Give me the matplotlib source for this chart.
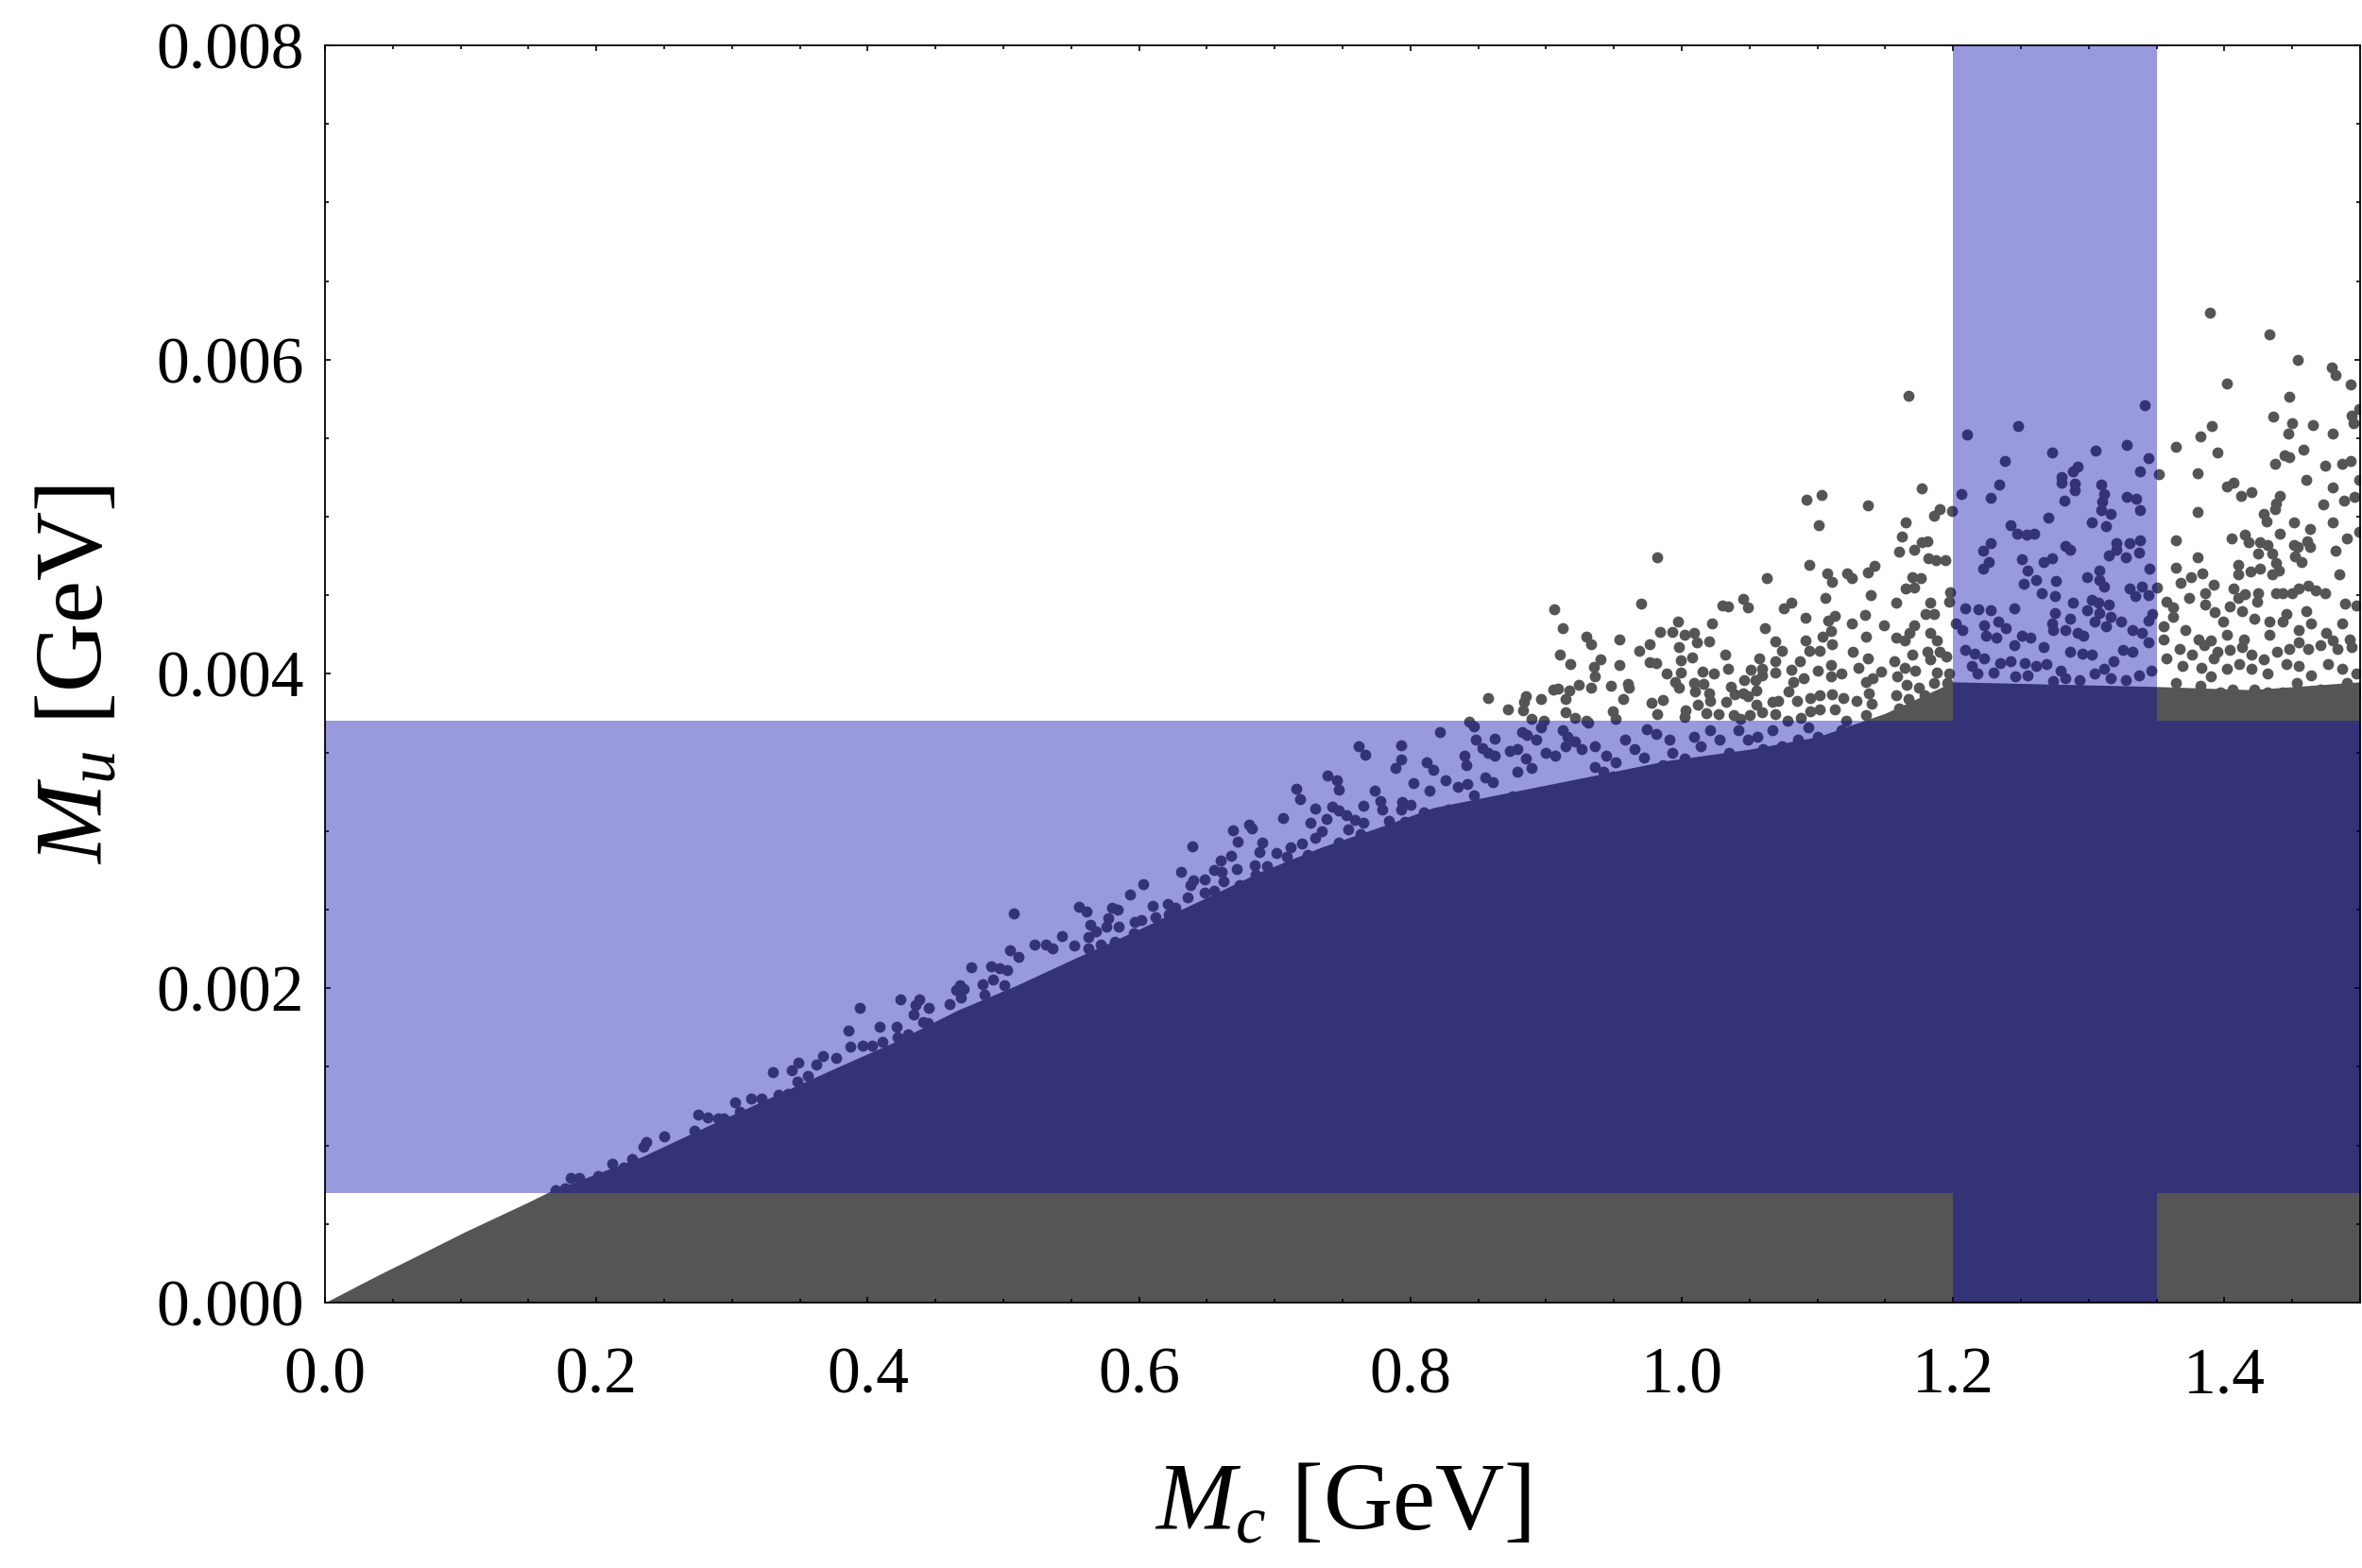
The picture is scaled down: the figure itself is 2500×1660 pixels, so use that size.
import matplotlib
matplotlib.use("Agg")
import matplotlib.pyplot as plt
from matplotlib.ticker import MultipleLocator, FormatStrFormatter

plt.rcParams['font.family'] = 'serif'
plt.rcParams['font.serif'] = ['Liberation Serif', 'DejaVu Serif']
plt.rcParams['mathtext.fontset'] = 'custom'
plt.rcParams['mathtext.rm'] = 'Liberation Serif'
plt.rcParams['mathtext.it'] = 'Liberation Serif:italic'

# allowed ranges (GeV)
mc_band = (1.2, 1.35)
mu_band = (0.0007, 0.0037)

# upper edge of the densely filled part of the scan (Mc in GeV, Mu in MeV)
env_mc = [0.0, 0.038, 0.073, 0.103, 0.15, 0.164, 0.20, 0.234, 0.281, 0.327, 0.373, 0.42,
          0.466, 0.51, 0.55, 0.596, 0.643, 0.689, 0.735, 0.782, 0.817, 0.875, 0.933, 0.99,
          1.049, 1.1, 1.15, 1.2, 1.35, 1.42, 1.5]
env_mu = [0.0, 0.17, 0.32, 0.45, 0.64, 0.70, 0.82, 0.93, 1.12, 1.30, 1.48, 1.66,
          1.86, 2.02, 2.18, 2.36, 2.55, 2.74, 2.90, 3.04, 3.15, 3.25, 3.35, 3.45,
          3.52, 3.60, 3.75, 3.95, 3.92, 3.90, 3.95]

# scattered points along the edge, Mc < 0.52
edge_mc = [0.508, 0.505, 0.511, 0.476, 0.491, 0.497, 0.503, 0.492, 0.485, 0.501, 0.465, 0.468,
           0.471, 0.486, 0.501, 0.469, 0.424, 0.438, 0.435, 0.445, 0.460, 0.481, 0.394, 0.434,
           0.441, 0.444, 0.461, 0.409, 0.421, 0.386, 0.430, 0.454, 0.411, 0.422, 0.387, 0.396,
           0.403, 0.367, 0.377, 0.362, 0.349, 0.344, 0.330, 0.356, 0.348, 0.302, 0.314, 0.322,
           0.334, 0.341, 0.331, 0.340, 0.306, 0.275, 0.282, 0.290, 0.294, 0.316, 0.250, 0.237,
           0.235, 0.212, 0.220, 0.226, 0.181, 0.187, 0.170, 0.177, 0.201, 0.246, 0.255, 0.262,
           0.272]
edge_mu = [2.478, 2.244, 2.198, 2.132, 2.138, 2.128, 2.114, 2.058, 2.028, 2.022, 1.987, 2.018,
           1.998, 1.957, 1.947, 1.943, 1.931, 1.927, 1.893, 1.877, 1.897, 1.877, 1.877, 1.833,
           1.787, 1.777, 1.785, 1.757, 1.753, 1.729, 1.707, 1.725, 1.661, 1.687, 1.627, 1.637,
           1.637, 1.567, 1.557, 1.517, 1.525, 1.477, 1.465, 1.445, 1.407, 1.272, 1.296, 1.300,
           1.322, 1.326, 1.276, 1.230, 1.216, 1.196, 1.176, 1.170, 1.170, 1.184, 1.056, 1.020,
           0.990, 0.886, 0.862, 0.916, 0.792, 0.792, 0.716, 0.726, 0.806, 0.926, 0.966, 0.996,
           1.096]

# scattered points, 0.5 < Mc < 0.8
mid_mc = [0.762, 0.767, 0.793, 0.793, 0.789, 0.802, 0.739, 0.746, 0.747, 0.716, 0.719, 0.774,
          0.778, 0.779, 0.765, 0.742, 0.747, 0.730, 0.706, 0.726, 0.738, 0.753, 0.759, 0.765,
          0.794, 0.793, 0.800, 0.784, 0.796, 0.681, 0.683, 0.669, 0.673, 0.691, 0.689, 0.639,
          0.701, 0.709, 0.712, 0.720, 0.724, 0.730, 0.735, 0.747, 0.754, 0.763, 0.775, 0.779,
          0.660, 0.668, 0.685, 0.694, 0.686, 0.655, 0.661, 0.672, 0.631, 0.640, 0.648, 0.638,
          0.662, 0.603, 0.593, 0.655, 0.648, 0.674, 0.676, 0.636, 0.685, 0.698, 0.707, 0.705,
          0.712, 0.724, 0.733, 0.742, 0.759, 0.766, 0.770, 0.556, 0.561, 0.580, 0.584, 0.610,
          0.621, 0.627, 0.577, 0.564, 0.568, 0.576, 0.585, 0.597, 0.602, 0.612, 0.619, 0.622,
          0.630, 0.646, 0.654, 0.663, 0.523, 0.531, 0.536, 0.543, 0.552, 0.563, 0.563, 0.572,
          0.582, 0.596]
mid_mu = [3.538, 3.484, 3.544, 3.454, 3.400, 3.308, 3.352, 3.322, 3.266, 3.268, 3.206, 3.256,
          3.190, 3.136, 3.160, 3.154, 3.130, 3.142, 3.082, 3.052, 3.080, 3.100, 3.070, 3.056,
          3.188, 3.136, 3.168, 3.064, 3.060, 3.040, 3.016, 3.004, 2.932, 2.930, 2.869, 2.901,
          2.863, 2.839, 2.899, 2.920, 2.849, 2.960, 3.000, 2.930, 3.010, 2.980, 2.950, 2.904,
          2.815, 2.841, 2.783, 2.775, 2.723, 2.755, 2.739, 2.759, 2.739, 2.689, 2.695, 2.655,
          2.679, 2.663, 2.599, 2.623, 2.609, 2.659, 2.619, 2.579, 2.585, 2.689, 2.739, 2.639,
          2.579, 2.729, 2.699, 2.729, 2.759, 2.719, 2.629, 2.517, 2.489, 2.513, 2.499, 2.523,
          2.535, 2.511, 2.449, 2.407, 2.365, 2.395, 2.395, 2.423, 2.435, 2.451, 2.415, 2.469,
          2.435, 2.459, 2.539, 2.569, 2.277, 2.277, 2.251, 2.331, 2.271, 2.325, 2.253, 2.275,
          2.299, 2.353]

# scattered points below the band edge, 0.8 < Mc < 1.15
inband_mc = [0.822, 0.843, 0.847, 0.862, 0.848, 0.853, 0.857, 0.840, 0.862, 0.841, 0.812, 0.817,
             0.826, 0.835, 0.842, 0.855, 0.861, 0.814, 0.847, 0.868, 0.875, 0.879, 0.873, 0.885,
             0.889, 0.879, 0.882, 0.886, 0.893, 0.896, 0.900, 0.907, 0.914, 0.921, 0.912, 0.916,
             0.926, 0.930, 0.936, 0.944, 0.951, 0.942, 0.936, 0.949, 0.958, 0.965, 0.972, 0.963,
             0.972, 0.981, 0.986, 0.993, 1.002, 0.991, 0.981, 0.974, 1.009, 1.014, 1.021, 1.028,
             1.035, 1.042, 1.049, 1.056, 1.060, 1.067, 1.074, 1.081, 1.086, 1.093, 1.100, 1.107,
             1.114, 1.118, 1.125, 1.130, 1.137, 1.144, 1.148, 1.146, 1.135, 1.125, 1.114, 1.100,
             1.088, 1.077, 1.065, 1.051, 1.039, 1.028, 1.019, 1.009, 1.000, 0.893, 0.902, 0.909,
             0.921, 0.930, 0.940, 0.949, 0.958, 0.967, 0.977, 0.986, 0.995, 1.005, 1.014, 1.023,
             1.032, 1.042, 1.051, 1.060, 1.070, 1.079, 1.088, 1.097, 1.107, 1.116, 1.125, 1.135,
             1.144, 1.151, 0.810, 0.819, 0.828, 0.837, 0.851, 0.861, 0.872, 0.882, 0.807, 0.819,
             0.831, 0.842, 0.854, 0.865, 0.877, 0.889, 0.900, 0.912]
inband_mu = [3.630, 3.696, 3.664, 3.590, 3.580, 3.530, 3.500, 3.480, 3.480, 3.419, 3.439, 3.389,
             3.323, 3.279, 3.299, 3.339, 3.309, 3.255, 3.229, 3.199, 3.219, 3.520, 3.510, 3.460,
             3.399, 3.379, 3.630, 3.610, 3.580, 3.660, 3.500, 3.480, 3.540, 3.570, 3.640, 3.600,
             3.520, 3.700, 3.540, 3.480, 3.439, 3.379, 3.409, 3.349, 3.580, 3.520, 3.470, 3.299,
             3.219, 3.299, 3.419, 3.500, 3.460, 3.580, 3.620, 3.650, 3.600, 3.540, 3.640, 3.580,
             3.500, 3.640, 3.580, 3.600, 3.520, 3.640, 3.540, 3.480, 3.580, 3.660, 3.600, 3.520,
             3.580, 3.640, 3.500, 3.560, 3.460, 3.540, 3.600, 3.359, 3.319, 3.259, 3.219, 3.289,
             3.259, 3.319, 3.239, 3.299, 3.359, 3.279, 3.359, 3.239, 3.279, 3.179, 3.139, 3.179,
             3.119, 3.199, 3.179, 3.099, 3.139, 3.079, 3.139, 3.099, 3.159, 3.119, 3.179, 3.119,
             3.179, 3.139, 3.099, 3.159, 3.179, 3.119, 3.099, 3.159, 3.179, 3.119, 3.139, 3.179,
             3.119, 3.179, 3.119, 3.099, 3.139, 3.079, 3.119, 3.059, 3.099, 3.059, 2.979, 2.939,
             2.999, 2.899, 2.979, 2.919, 2.979, 2.939, 3.019, 2.999]

# scattered points above the band, 0.85 < Mc < 1.15
top_mc = [1.092, 1.103, 1.137, 1.101, 0.982, 1.094, 1.142, 1.107, 1.122, 1.125, 1.137, 1.111,
          1.063, 1.139, 1.106, 0.970, 0.906, 1.030, 1.034, 1.045, 1.049, 1.075, 1.081, 1.091,
          1.108, 1.113, 1.135, 1.125, 1.149, 0.912, 0.997, 1.022, 1.061, 0.930, 0.933, 0.954,
          0.984, 0.993, 1.002, 1.009, 1.011, 1.020, 0.976, 0.969, 0.998, 1.069, 1.091, 1.104,
          1.110, 1.136, 0.910, 0.918, 0.940, 0.935, 0.936, 0.954, 0.976, 0.981, 0.999, 1.008,
          1.032, 1.034, 0.989, 0.999, 1.015, 1.024, 1.051, 1.057, 1.059, 1.069, 1.074, 1.094,
          1.102, 1.111, 1.126, 1.137, 1.081, 1.087, 1.100, 1.110, 1.118, 1.130, 1.147, 0.905,
          0.909, 0.917, 0.924, 0.933, 0.948, 0.960, 0.961, 0.995, 0.998, 1.009, 1.016, 1.010,
          1.036, 1.046, 1.054, 1.059, 1.069, 1.082, 1.090, 1.110, 1.136, 1.141, 0.857, 0.885,
          0.884, 0.896, 0.914, 0.957, 0.978, 0.986, 1.020, 1.021, 1.012, 1.033, 1.039, 1.045,
          1.049, 1.055, 1.055, 1.067, 1.071, 1.079, 1.085, 1.095, 1.102, 1.111, 1.119, 1.129,
          1.138, 0.872, 0.883, 0.889, 0.898, 0.914, 0.921, 0.931, 0.949, 0.951, 0.982, 1.003,
          1.002, 1.018, 1.027, 1.038, 1.043, 1.050, 1.059, 1.069, 1.078, 1.088, 1.095, 1.102,
          1.113, 1.121, 1.136, 1.140]
top_mu = [5.111, 5.141, 5.070, 4.948, 4.743, 4.697, 4.691, 4.643, 4.643, 4.611, 4.649, 4.589,
          4.613, 4.502, 4.484, 4.448, 4.414, 4.438, 4.432, 4.480, 4.426, 4.420, 4.456, 4.360,
          4.342, 4.372, 4.378, 4.323, 4.311, 4.293, 4.335, 4.323, 4.293, 4.239, 4.191, 4.221,
          4.269, 4.269, 4.251, 4.263, 4.203, 4.209, 4.191, 4.149, 4.173, 4.209, 4.215, 4.239,
          4.275, 4.239, 4.125, 4.064, 4.094, 4.046, 3.986, 4.058, 4.076, 4.070, 4.088, 4.107,
          4.125, 4.034, 4.004, 4.010, 4.016, 4.004, 4.028, 4.101, 4.034, 4.082, 4.149, 4.149,
          4.149, 4.187, 4.143, 4.101, 4.028, 4.082, 4.022, 4.058, 4.004, 4.040, 4.016, 3.902,
          3.908, 3.896, 3.932, 3.914, 3.926, 3.938, 3.914, 3.950, 3.914, 3.944, 3.938, 3.890,
          3.920, 3.962, 3.962, 3.992, 4.010, 3.950, 3.974, 3.986, 3.950, 3.974, 3.848, 3.860,
          3.823, 3.841, 3.841, 3.841, 3.817, 3.835, 3.878, 3.829, 3.805, 3.823, 3.872, 3.878,
          3.860, 3.896, 3.805, 3.823, 3.829, 3.890, 3.829, 3.848, 3.866, 3.872, 3.848, 3.829,
          3.878, 3.775, 3.769, 3.715, 3.703, 3.757, 3.721, 3.691, 3.763, 3.715, 3.745, 3.769,
          3.727, 3.751, 3.747, 3.739, 3.715, 3.739, 3.757, 3.745, 3.703, 3.721, 3.763, 3.775,
          3.775, 3.703, 3.739, 3.811]

# scattered points, Mc > 1.15
right_mc = [1.167, 1.177, 1.165, 1.162, 1.160, 1.171, 1.177, 1.181, 1.182, 1.187, 1.194, 1.186,
            1.190, 1.199, 1.170, 1.176, 1.165, 1.171, 1.158, 1.183, 1.198, 1.197, 1.180, 1.186,
            1.171, 1.168, 1.158, 1.164, 1.183, 1.188, 1.190, 1.195, 1.181, 1.170, 1.157, 1.164,
            1.172, 1.183, 1.188, 1.197, 1.159, 1.166, 1.175, 1.186, 1.196, 1.158, 1.167, 1.179,
            1.190, 1.197, 1.160, 1.172, 1.183, 1.193,
            1.210, 1.248, 1.238, 1.206, 1.234, 1.228, 1.273, 1.305, 1.328, 1.341, 1.344, 1.338,
            1.292, 1.288, 1.280, 1.280, 1.290, 1.290, 1.282, 1.309, 1.311, 1.310, 1.309, 1.316,
            1.328, 1.335, 1.338, 1.270, 1.242, 1.247, 1.254, 1.260, 1.302, 1.313, 1.228, 1.222,
            1.226, 1.222, 1.251, 1.267, 1.273, 1.283, 1.286, 1.320, 1.320, 1.330, 1.338, 1.337,
            1.315, 1.327, 1.255, 1.261, 1.252, 1.276, 1.265, 1.275, 1.299, 1.308, 1.308, 1.311,
            1.330, 1.339, 1.334, 1.345, 1.350, 1.344, 1.288, 1.302, 1.307, 1.315, 1.299, 1.308,
            1.316, 1.209, 1.219, 1.228, 1.245, 1.275, 1.286, 1.273, 1.274, 1.283, 1.292, 1.296,
            1.304, 1.313, 1.324, 1.332, 1.339, 1.344, 1.347, 1.202, 1.207, 1.223, 1.233, 1.239,
            1.224, 1.232, 1.251, 1.257, 1.267, 1.245, 1.209, 1.216, 1.223, 1.235, 1.242, 1.253,
            1.261, 1.269, 1.279, 1.286, 1.295, 1.302, 1.311, 1.318, 1.325, 1.332, 1.344, 1.214,
            1.218, 1.230, 1.246, 1.255, 1.274, 1.283, 1.293, 1.304, 1.316, 1.327, 1.337, 1.346,
            1.207, 1.214, 1.223, 1.235, 1.246, 1.258, 1.269, 1.281, 1.293, 1.304, 1.316, 1.327,
            1.339, 1.346,
            1.389, 1.433, 1.454, 1.479, 1.482, 1.493, 1.402, 1.448, 1.436, 1.450, 1.447, 1.465,
            1.480, 1.494, 1.495, 1.499, 1.391, 1.382, 1.364, 1.395, 1.444, 1.448, 1.458, 1.437,
            1.474, 1.487, 1.493, 1.380, 1.352, 1.402, 1.407, 1.412, 1.420, 1.441, 1.438, 1.437,
            1.460, 1.480, 1.496, 1.473, 1.488, 1.499, 1.380, 1.429, 1.431, 1.451, 1.463, 1.480,
            1.364, 1.405, 1.415, 1.418, 1.426, 1.432, 1.435, 1.425, 1.441, 1.451, 1.454, 1.461,
            1.463, 1.482, 1.490, 1.499, 1.380, 1.364, 1.410, 1.410, 1.419, 1.426, 1.438, 1.440,
            1.435, 1.452, 1.457, 1.485, 1.375, 1.384, 1.368, 1.392, 1.386, 1.407, 1.415, 1.410,
            1.425, 1.438, 1.443, 1.450, 1.455, 1.462, 1.467, 1.474, 1.424, 1.404, 1.413, 1.386,
            1.357, 1.362, 1.374, 1.393, 1.399, 1.489, 1.497, 1.487, 1.475, 1.480, 1.492, 1.455,
            1.464, 1.460, 1.446, 1.443, 1.433, 1.433, 1.422, 1.414, 1.402, 1.390, 1.381, 1.371,
            1.362, 1.355, 1.355, 1.367, 1.376, 1.385, 1.395, 1.404, 1.413, 1.420, 1.429, 1.439,
            1.448, 1.455, 1.462, 1.471, 1.483, 1.494, 1.357, 1.369, 1.383, 1.392, 1.402, 1.411,
            1.420, 1.432, 1.446, 1.455, 1.464, 1.476, 1.487, 1.497, 1.355, 1.364, 1.371, 1.382,
            1.390, 1.397, 1.406, 1.413, 1.422, 1.432, 1.443, 1.453, 1.462, 1.471, 1.480, 1.490,
            1.499]
right_mu = [5.768, 5.183, 4.963, 4.873, 4.780, 4.792, 4.836, 4.842, 4.738, 4.726, 4.726, 5.009,
            5.051, 5.035, 4.618, 4.612, 4.546, 4.552, 4.456, 4.456, 4.522, 4.462, 4.382, 4.382,
            4.312, 4.262, 4.232, 4.212, 4.262, 4.212, 4.142, 4.112, 4.142, 4.122, 4.082, 4.042,
            4.022, 4.092, 4.012, 4.002, 3.982, 3.932, 3.912, 3.942, 3.942, 3.862, 3.842, 3.862,
            3.842, 3.782, 3.782, 3.772, 3.762, 3.732,
            5.522, 5.576, 5.354, 5.144, 5.204, 5.120, 5.408, 5.424, 5.460, 5.708, 5.372, 5.292,
            5.318, 5.288, 5.254, 5.218, 5.214, 5.168, 5.102, 5.204, 5.148, 5.095, 5.043, 5.017,
            5.129, 5.113, 5.041, 4.993, 4.945, 4.891, 4.889, 4.895, 4.963, 4.939, 4.831, 4.783,
            4.711, 4.672, 4.732, 4.711, 4.737, 4.813, 4.793, 4.835, 4.793, 4.831, 4.849, 4.770,
            4.754, 4.742, 4.656, 4.596, 4.572, 4.590, 4.516, 4.498, 4.614, 4.660, 4.596, 4.554,
            4.546, 4.554, 4.494, 4.668, 4.548, 4.502, 4.452, 4.474, 4.456, 4.444, 4.408, 4.386,
            4.366, 4.420, 4.414, 4.406, 4.416, 4.386, 4.350, 4.322, 4.282, 4.282, 4.262, 4.242,
            4.332, 4.302, 4.332, 4.282, 4.262, 4.342, 4.382, 4.322, 4.282, 4.312, 4.332, 4.292,
            4.242, 4.232, 4.242, 4.232, 4.172, 4.182, 4.152, 4.132, 4.102, 4.072, 4.082, 4.072,
            4.052, 4.062, 4.022, 4.142, 4.132, 4.122, 4.032, 4.082, 4.152, 4.142, 4.202, 4.052,
            4.002, 4.012, 3.982, 3.992, 3.952, 3.972, 3.962, 4.002, 3.972, 3.962, 3.992, 4.022,
            3.862, 3.822, 3.842, 3.882, 3.832, 3.862, 3.822, 3.842, 3.882, 3.822, 3.862, 3.822,
            3.882, 3.842,
            6.297, 6.163, 6.000, 5.948, 5.900, 5.840, 5.846, 5.762, 5.636, 5.594, 5.532, 5.586,
            5.532, 5.644, 5.594, 5.688, 5.580, 5.514, 5.444, 5.412, 5.390, 5.378, 5.430, 5.336,
            5.328, 5.336, 5.354, 5.275, 5.269, 5.191, 5.219, 5.131, 5.155, 5.131, 5.083, 5.047,
            5.233, 5.185, 5.129, 5.077, 5.101, 5.233, 5.029, 5.017, 4.969, 4.963, 4.921, 4.963,
            4.849, 4.861, 4.889, 4.837, 4.839, 4.823, 4.767, 4.767, 4.891, 4.819, 4.807, 4.847,
            4.807, 4.787, 4.861, 4.903, 4.741, 4.678, 4.692, 4.632, 4.650, 4.668, 4.704, 4.656,
            4.632, 4.749, 4.711, 4.632, 4.614, 4.642, 4.582, 4.566, 4.512, 4.542, 4.510, 4.482,
            4.516, 4.512, 4.512, 4.512, 4.542, 4.562, 4.532, 4.512, 4.462, 4.432, 4.402, 4.442,
            4.462, 4.422, 4.482, 4.392, 4.332, 4.450, 4.438, 4.322, 4.262, 4.212, 4.222, 4.282,
            4.322, 4.402, 4.382, 4.332, 4.332, 4.252, 4.352, 4.222, 4.252, 4.212, 4.222, 4.282,
            4.362, 4.302, 4.222, 4.162, 4.122, 4.182, 4.142, 4.152, 4.172, 4.122, 4.092, 4.142,
            4.162, 4.202, 4.162, 4.182, 4.162, 4.172, 4.102, 4.052, 4.042, 4.102, 4.032, 4.062,
            4.032, 4.002, 4.062, 4.052, 3.992, 4.062, 4.032, 4.002, 3.802, 3.942, 3.862, 3.922,
            3.982, 3.882, 3.902, 3.842, 3.902, 3.882, 3.882, 3.942, 3.842, 3.902, 3.882, 3.942,
            3.882]

point_color = '#555555'
band_color = (0.0, 0.0, 170 / 255)

fig = plt.figure(figsize=(25, 16.6), dpi=100)
ax = fig.add_axes([344 / 2500, 281 / 1660, 2154 / 2500, 1331 / 1660])

# dense part of the scan
ax.fill_between(env_mc, 0, [v / 1000 for v in env_mu], color=point_color, lw=0, zorder=1)

all_mc = edge_mc + mid_mc + inband_mc + top_mc + right_mc
all_mu = edge_mu + mid_mu + inband_mu + top_mu + right_mu
ax.scatter(all_mc, [v / 1000 for v in all_mu], s=72, c=point_color, linewidths=0, zorder=2)

# allowed regions as one translucent shape (no double shading where they cross)
x0, x1 = 0.0, 1.5
y0, y1 = 0.0, 0.008
bx = [x0, mc_band[0], mc_band[0], mc_band[1], mc_band[1], x1, x1, mc_band[1],
      mc_band[1], mc_band[0], mc_band[0], x0]
by = [mu_band[0], mu_band[0], y0, y0, mu_band[0], mu_band[0], mu_band[1], mu_band[1],
      y1, y1, mu_band[1], mu_band[1]]
ax.fill(bx, by, color=band_color, alpha=0.4, lw=0, zorder=3)

ax.set_xlim(x0, x1)
ax.set_ylim(y0, y1)

ax.xaxis.set_major_locator(MultipleLocator(0.2))
ax.xaxis.set_minor_locator(MultipleLocator(0.05))
ax.yaxis.set_major_locator(MultipleLocator(0.002))
ax.yaxis.set_minor_locator(MultipleLocator(0.0005))
ax.xaxis.set_major_formatter(FormatStrFormatter('%.1f'))
ax.yaxis.set_major_formatter(FormatStrFormatter('%.3f'))

ax.tick_params(which='both', direction='in', top=True, right=True, width=1.2, labelsize=50)
ax.tick_params(which='major', length=4.5)
ax.tick_params(which='minor', length=3)
ax.tick_params(axis='x', pad=34)
ax.tick_params(axis='y', pad=16)
for sp in ax.spines.values():
    sp.set_linewidth(1.3)
    sp.set_zorder(5)

ax.set_xlabel(r'$M_c$ [GeV]', fontsize=73)
ax.set_ylabel(r'$M_u$ [GeV]', fontsize=73)
ax.xaxis.set_label_coords(0.5, -0.128)
ax.yaxis.set_label_coords(-0.099, 0.5)

fig.savefig('out.png', dpi=100)
